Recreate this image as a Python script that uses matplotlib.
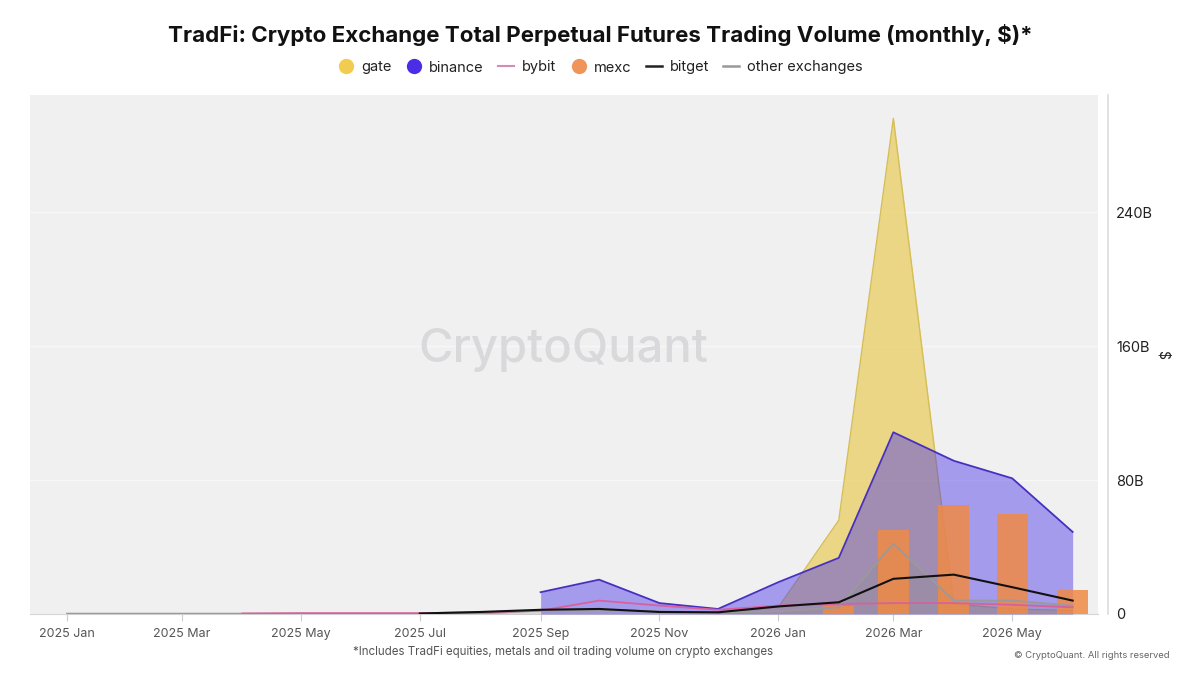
import matplotlib
matplotlib.use("Agg")
import matplotlib.pyplot as plt
import matplotlib.dates as mdates
from matplotlib.lines import Line2D
import numpy as np
import pandas as pd

plt.rcParams['font.family'] = ['Inter', 'DejaVu Sans']

# ---- data (billions of USD, monthly) ----
months = pd.date_range("2025-01-01", "2026-06-01", freq="MS")
gate =    [None]*11 + [0.5, 4, 56, 296, 6, 3, 2]
binance = [None]*8 + [13, 20.5, 6.5, 3, 19, 33.5, 108.5, 91.5, 81, 49]
bybit =   [None]*3 + [0.3, 0.5, 0.5, 0.5, 1, 2, 8, 5, 2.5, 5, 6, 6.5, 6.5, 5.5, 4]
mexc =    [0]*13 + [5, 50, 65, 59.5, 14.3]
bitget =  [None]*6 + [0.3, 1.2, 2.5, 3, 1.2, 1, 4.5, 7, 21, 23.5, 16, 8]
other =   [0.2]*8 + [2, 2.5, 1.5, 1, 1.5, 4, 42, 8, 8, 5]
yticks = [0, 80, 160, 240]
ytick_labels = ["0", "80B", "160B", "240B"]

def arr(v):
    return np.array([np.nan if x is None else x for x in v], dtype=float)

fig = plt.figure(figsize=(12, 6.75), dpi=100)
ax = fig.add_axes([0.025, 0.0904, 0.89, 0.769])
ax.set_facecolor("#f0f0f0")

x = months
g = arr(gate); b = arr(binance); by = arr(bybit); bg = arr(bitget); ot = arr(other)

ax.fill_between(x, 0, g, where=~np.isnan(g), color="#e6c53c", alpha=0.6, lw=0, zorder=2)
ax.plot(x, g, color="#d6bd55", lw=1, zorder=2.1)
ax.fill_between(x, 0, b, where=~np.isnan(b), color="#4a35ea", alpha=0.45, lw=0, zorder=3)
ax.plot(x, b, color="#4630c0", lw=1.3, zorder=3.1)
ax.fill_between(x, 0, ot, color="#8a8a8a", alpha=0.25, lw=0, zorder=3.5)
ax.bar(x, mexc, width=16, color="#f08a45", alpha=0.85, zorder=4)
ax.plot(x, ot, color="#9a9a9a", lw=1.3, zorder=5)
ax.plot(x, by, color="#d9609e", lw=1.3, zorder=5.1)
ax.plot(x, bg, color="#111111", lw=1.5, zorder=5.2)

ax.set_xlim(pd.Timestamp("2024-12-13"), pd.Timestamp("2026-06-14"))
ax.set_ylim(0, 310)

ax.xaxis.set_major_locator(mdates.MonthLocator(bymonth=[1, 3, 5, 7, 9, 11]))
ax.xaxis.set_major_formatter(mdates.DateFormatter("%Y %b"))
ax.tick_params(axis="x", colors="#cccccc", labelcolor="#555555", labelsize=9, length=5, width=0.8, pad=5)

ax.yaxis.tick_right()
ax.set_yticks(yticks)
ax.set_yticklabels(ytick_labels)
ax.tick_params(axis="y", length=0, labelsize=10.5, labelcolor="#222222", pad=6)
ax.set_ylabel("$", rotation=-90, fontsize=10, color="#222222")
ax.yaxis.set_label_coords(1.054, 0.5)
ax.grid(axis="y", color="#f7f7f7", lw=1)
ax.set_axisbelow(True)

for s in ["top", "left"]:
    ax.spines[s].set_visible(False)
ax.spines["bottom"].set_color("#d6d6d6")
ax.spines["right"].set_position(("outward", 7))
ax.spines["right"].set_color("#dcdcdc")
ax.spines["right"].set_linewidth(1.2)

ax.text(0.499, 0.509, "CryptoQuant", transform=ax.transAxes, fontsize=34,
        color="#d9d9dc", ha="center", va="center", zorder=1.5, fontweight="medium")

fig.text(0.5, 0.948, "TradFi: Crypto Exchange Total Perpetual Futures Trading Volume (monthly, $)*",
         ha="center", va="center", fontsize=16.1, fontweight="bold", color="#111111")

handles = [
    Line2D([], [], marker="o", ls="", markersize=11, markerfacecolor="#f2cc50", markeredgecolor="none"),
    Line2D([], [], marker="o", ls="", markersize=11, markerfacecolor="#4a2ee6", markeredgecolor="none"),
    Line2D([], [], color="#d48bb6", lw=1.5),
    Line2D([], [], marker="o", ls="", markersize=11, markerfacecolor="#f0955a", markeredgecolor="none"),
    Line2D([], [], color="#222222", lw=1.8),
    Line2D([], [], color="#999999", lw=1.8),
]
labels = ["gate", "binance", "bybit", "mexc", "bitget", "other exchanges"]
fig.legend(handles, labels, loc="center", bbox_to_anchor=(0.5, 0.9), ncol=6, frameon=False,
           fontsize=10.5, handlelength=1.1, handletextpad=0.5, columnspacing=1.0, labelcolor="#222222")

fig.text(0.469, 0.034, "*Includes TradFi equities, metals and oil trading volume on crypto exchanges",
         ha="center", va="center", fontsize=8.3, color="#555555")
fig.text(0.975, 0.029, "© CryptoQuant. All rights reserved", ha="right", va="center",
         fontsize=6.8, color="#666666")

fig.savefig("out.png", dpi=100, facecolor="white")
